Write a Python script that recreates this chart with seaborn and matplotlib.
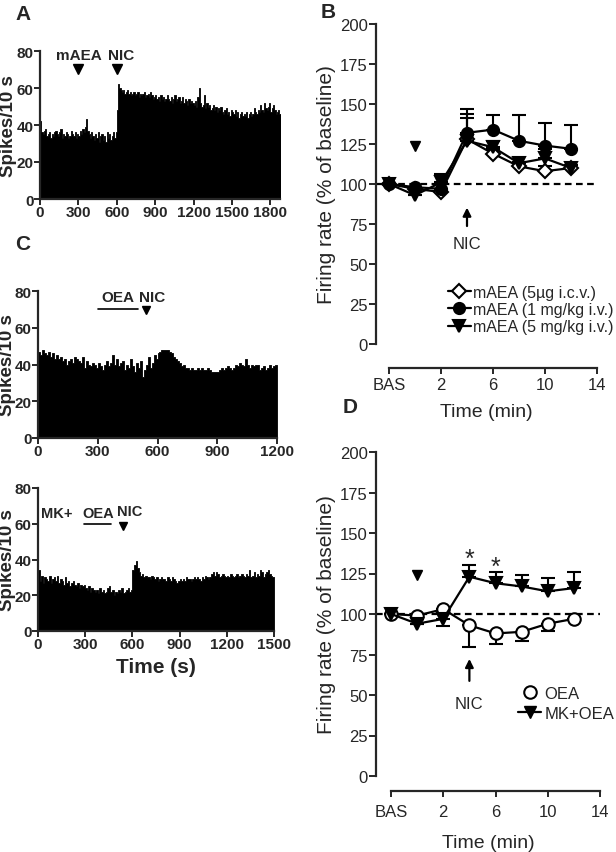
import numpy as np
import pandas as pd
import matplotlib
matplotlib.use('Agg')
from matplotlib import pyplot as plt
from matplotlib.lines import Line2D
import seaborn as sns

# ---- panel A: spikes per 10 s bin (0..1870 s)
a_counts = [42, 36, 35, 37, 38, 34, 35, 36, 33, 35,
            34, 36, 37, 35, 34, 36, 38, 33, 35, 34,
            36, 35, 33, 34, 37, 35, 34, 36, 33, 35,
            34, 37, 35, 38, 36, 39, 43, 37, 35, 33,
            36, 34, 32, 35, 33, 36, 31, 34, 35, 32,
            34, 31, 36, 33, 35, 32, 34, 36, 33, 36,
            48, 62, 60, 59, 58, 59, 57, 58, 59, 57,
            58, 56, 57, 58, 56, 57, 58, 55, 57, 56,
            57, 58, 55, 56, 57, 55, 58, 56, 54, 55,
            56, 54, 55, 53, 56, 54, 55, 53, 54, 56,
            54, 53, 55, 52, 54, 56, 53, 54, 55, 52,
            53, 55, 52, 54, 53, 51, 54, 52, 53, 52,
            51, 53, 50, 55, 60, 52, 50, 51, 56, 49,
            52, 50, 51, 48, 49, 51, 48, 50, 47, 49,
            48, 50, 47, 46, 48, 49, 46, 47, 45, 48,
            47, 46, 48, 45, 47, 44, 46, 47, 45, 46,
            45, 47, 44, 46, 47, 45, 46, 49, 47, 46,
            48, 47, 51, 48, 47, 52, 49, 48, 50, 52,
            47, 49, 51, 48, 46, 47, 48, 46]

# ---- panel C top: OEA (0..1190 s)
c1_counts = [47, 45, 48, 46, 45, 47, 44, 46, 43, 45,
             43, 44, 42, 43, 40, 42, 43, 41, 44, 43,
             42, 41, 44, 38, 42, 40, 39, 41, 40, 38,
             41, 39, 37, 40, 42, 39, 41, 45, 40, 43,
             39, 41, 42, 37, 40, 38, 43, 39, 36, 41,
             38, 42, 33, 37, 40, 44, 38, 41, 45, 43,
             46, 47, 48, 48, 48, 48, 47, 46, 44, 43,
             42, 41, 39, 40, 38, 38, 37, 38, 37, 37,
             38, 37, 38, 37, 37, 38, 37, 36, 36, 36,
             36, 37, 38, 37, 38, 39, 38, 37, 38, 40,
             39, 41, 40, 39, 43, 40, 38, 40, 39, 40,
             40, 37, 38, 39, 37, 38, 40, 38, 39, 40]

# ---- panel C bottom: MK + OEA (0..1490 s)
c2_counts = [34, 28, 31, 27, 30, 29, 28, 31, 27, 29,
             30, 28, 31, 27, 29, 28, 26, 30, 27, 28,
             25, 27, 28, 26, 25, 27, 24, 26, 25, 26,
             24, 23, 25, 22, 24, 23, 22, 23, 21, 24,
             22, 23, 21, 22, 24, 25, 22, 23, 20, 22,
             21, 23, 22, 24, 21, 22, 23, 24, 22, 23,
             34, 37, 39, 35, 33, 31, 32, 30, 31, 30,
             30, 29, 31, 30, 29, 30, 28, 29, 30, 29,
             29, 28, 30, 29, 28, 30, 29, 28, 27, 28,
             29, 28, 29, 28, 30, 29, 29, 28, 29, 30,
             29, 30, 29, 28, 30, 29, 31, 30, 29, 30,
             32, 33, 31, 33, 32, 30, 31, 32, 31, 30,
             31, 30, 32, 31, 30, 31, 32, 30, 31, 32,
             31, 30, 32, 31, 34, 30, 31, 33, 30, 32,
             31, 34, 33, 30, 32, 33, 34, 32, 31, 30]

bin_s = 10

# ---- panel B: firing rate, % of baseline (time in min, BAS = -2)
t_min = [-2, 0, 2, 4, 6, 8, 10, 12]
time_ticks = [-2, 2, 6, 10, 14]
time_ticklabels = ['BAS', '2', '6', '10', '14']
b_icv = [100, 97, 95, 128, 119, 111, 108, 110]
b_icv_err = [0, 0, 0, 13, 3, 3, 3, 2]
b_1mg = [100, 98, 97, 132, 134, 127, 124, 122]
b_1mg_err = [0, 0, 0, 15, 9, 16, 14, 15]
b_5mg = [100, 93, 101, 127, 123, 113, 116, 110]
b_5mg_err = [0, 0, 5, 17, 4, 0, 6, 2]
b_labels = ['mAEA (5\u00b5g i.c.v.)', 'mAEA (1 mg/kg i.v.)', 'mAEA (5 mg/kg i.v.)']

# ---- panel D
d_oea = [100, 99, 103, 93, 88, 89, 94, 97]
d_oea_err = [0, 0, 0, 13.5, 6.5, 5.5, 4.5, 0]        # drawn downward
d_mk = [100, 94, 97, 123, 119, 117, 114, 116]
d_mk_err_up = [0, 0, 0, 7.5, 7, 7, 8.5, 10]
d_mk_err_dn = [0, 0, 4.5, 0, 0, 0, 0, 0]
d_labels = ['OEA', 'MK+OEA']
d_stars = [4, 6]
d_star_y = [134, 129]

# injection times
a_events = [300, 600]
c1_oea = [300, 500]
c1_nic = 540
c2_oea = [295, 465]
c2_nic = 540
inj_min = 0
nic_min = 4

sns.set_style('ticks')
plt.rcParams['font.family'] = ['Liberation Sans', 'DejaVu Sans']
plt.rcParams['axes.linewidth'] = 1.6
plt.rcParams['xtick.major.width'] = 1.4
plt.rcParams['ytick.major.width'] = 1.4

fig = plt.figure(figsize=(6.16, 8.53), dpi=100)


def pos(l, t, r, b):
    return [l / 616, 1 - b / 853, (r - l) / 616, (b - t) / 853]


def hist_panel(ax, counts, xmax, xticks, width_px, lab_px):
    starts = np.arange(len(counts)) * bin_s
    df = pd.DataFrame({'t': starts + bin_s / 2, 'n': counts})
    sns.histplot(data=df, x='t', weights='n', binwidth=bin_s,
                 binrange=(0, len(counts) * bin_s), element='step',
                 fill=True, color='black', alpha=1, linewidth=0.6, ax=ax)
    ax.set_xlim(0, xmax)
    ax.set_ylim(0, 80)
    ax.set_xticks(xticks)
    ax.set_yticks([0, 20, 40, 60, 80])
    ax.set_xlabel('')
    ax.set_ylabel('Spikes/10 s', fontsize=13.5, fontweight='bold')
    ax.yaxis.set_label_coords(-lab_px / width_px, 0.5)
    ax.tick_params(labelsize=11, length=4, pad=0.5)
    for lab in ax.get_xticklabels() + ax.get_yticklabels():
        lab.set_fontweight('bold')
    sns.despine(ax=ax)


# ---- A
axA = fig.add_axes(pos(40, 52, 280, 200))
hist_panel(axA, a_counts, 1875, [0, 300, 600, 900, 1200, 1500, 1800], 240, 23)
for ev, name in zip(a_events, ['mAEA', 'NIC']):
    axA.plot(ev, 70.5, marker='v', color='black', markersize=7)
    axA.text(ev + (0 if name == 'mAEA' else 35), 74, name, ha='center', va='bottom',
             fontsize=11, fontweight='bold')

# ---- C top
axC1 = fig.add_axes(pos(38, 292, 277, 439))
hist_panel(axC1, c1_counts, 1200, [0, 300, 600, 900, 1200], 239, 22)
axC1.plot(c1_oea, [70, 70], color='black', lw=1.2)
axC1.text(sum(c1_oea) / 2, 73, 'OEA', ha='center', va='bottom', fontsize=11, fontweight='bold')
axC1.plot(c1_nic, 69.5, marker='v', color='black', markersize=6)
axC1.text(c1_nic + 35, 73, 'NIC', ha='center', va='bottom', fontsize=11, fontweight='bold')

# ---- C bottom
axC2 = fig.add_axes(pos(38, 489, 274, 632))
hist_panel(axC2, c2_counts, 1500, [0, 300, 600, 900, 1200, 1500], 236, 22)
axC2.set_xlabel('Time (s)', fontsize=15, fontweight='bold', labelpad=4)
axC2.plot(c2_oea, [60, 60], color='black', lw=1.2)
axC2.text(120, 62, 'MK+', ha='center', va='bottom', fontsize=10.5, fontweight='bold')
axC2.text(sum(c2_oea) / 2, 62, 'OEA', ha='center', va='bottom', fontsize=10.5, fontweight='bold')
axC2.plot(c2_nic, 59, marker='v', color='black', markersize=6)
axC2.text(c2_nic + 40, 63, 'NIC', ha='center', va='bottom', fontsize=10.5, fontweight='bold')


def rate_axes(ax, xmin, offset, xpad, labpad):
    ax.set_xlim(xmin, 14)
    ax.set_ylim(0, 200)
    ax.set_yticks(np.arange(0, 201, 25))
    ax.set_xticks(time_ticks)
    ax.set_xticklabels(time_ticklabels)
    ax.axhline(100, color='black', ls=(0, (3, 2)), lw=1.6, zorder=1)
    sns.despine(ax=ax)
    ax.spines['bottom'].set_position(('outward', offset))
    ax.spines['bottom'].set_bounds(-2, 14)
    ax.spines['left'].set_bounds(0, 200)
    ax.tick_params(axis='y', labelsize=12, length=5, pad=1)
    ax.tick_params(axis='x', labelsize=12, length=4, pad=xpad)
    ax.set_ylabel('Firing rate (% of baseline)', fontsize=15, labelpad=3)
    ax.set_xlabel('Time (min)', fontsize=14, labelpad=labpad)
    ax.plot(inj_min, 124, marker='v', color='black', markersize=7, ls='none')


def series(ax, y, err_up, err_dn, marker, face, ms=8):
    sns.lineplot(x=t_min, y=y, ax=ax, color='black', lw=1.6, marker=marker,
                 markersize=ms, markerfacecolor=face, markeredgecolor='black',
                 markeredgewidth=1.5, zorder=3)
    ax.errorbar(t_min, y, yerr=[err_dn, err_up], fmt='none', ecolor='black',
                elinewidth=1.5, capsize=5, capthick=1.5, zorder=2)


# ---- B
axB = fig.add_axes(pos(376, 25, 597, 345))
zeros = [0] * len(t_min)
series(axB, b_icv, b_icv_err, zeros, 'D', 'white', ms=7)
series(axB, b_1mg, b_1mg_err, zeros, 'o', 'black')
series(axB, b_5mg, b_5mg_err, zeros, 'v', 'black')
rate_axes(axB, -3, 17, 3, 8)
axB.annotate('', xy=(nic_min, 87), xytext=(nic_min, 72),
             arrowprops=dict(arrowstyle='-|>', color='black', lw=1.6, mutation_scale=12))
axB.text(nic_min, 63, 'NIC', ha='center', va='center', fontsize=12)
hB = [Line2D([], [], color='black', lw=1.6, marker=m, markersize=s, markerfacecolor=f,
             markeredgecolor='black', markeredgewidth=1.5)
      for m, f, s in [('D', 'white', 7), ('o', 'black', 8), ('v', 'black', 8)]]
axB.legend(hB, b_labels, loc='lower right', bbox_to_anchor=(1.075, 0.03), frameon=False,
           fontsize=11.5, handlelength=1.4, handletextpad=0.15, labelspacing=0.15,
           borderpad=0, borderaxespad=0)

# ---- D
axD = fig.add_axes(pos(376, 453, 600, 777))
series(axD, d_oea, zeros, d_oea_err, 'o', 'white', ms=9)
series(axD, d_mk, d_mk_err_up, d_mk_err_dn, 'v', 'black')
rate_axes(axD, -3.15, 11, 5, 11)
axD.annotate('', xy=(nic_min, 74), xytext=(nic_min, 57),
             arrowprops=dict(arrowstyle='-|>', color='black', lw=1.6, mutation_scale=12))
axD.text(nic_min, 45, 'NIC', ha='center', va='center', fontsize=12)
for xs, ys in zip(d_stars, d_star_y):
    axD.text(xs, ys, '*', ha='center', va='center', fontsize=18)
hD = [Line2D([], [], color='black', lw=0, marker='o', markersize=9, markerfacecolor='white',
             markeredgecolor='black', markeredgewidth=1.5),
      Line2D([], [], color='black', lw=1.6, marker='v', markersize=8, markerfacecolor='black',
             markeredgecolor='black')]
axD.legend(hD, d_labels, loc='lower right', bbox_to_anchor=(1.065, 0.17), frameon=False,
           fontsize=12, handlelength=1.4, handletextpad=0.2, labelspacing=0.3,
           borderpad=0, borderaxespad=0)

# panel letters
for lab, x, y in [('A', 23, 15), ('B', 328, 12), ('C', 23, 245), ('D', 350, 408)]:
    fig.text(x / 616, 1 - y / 853, lab, fontsize=15, fontweight='bold', ha='center', va='center')

fig.savefig('out.png', dpi=100)
